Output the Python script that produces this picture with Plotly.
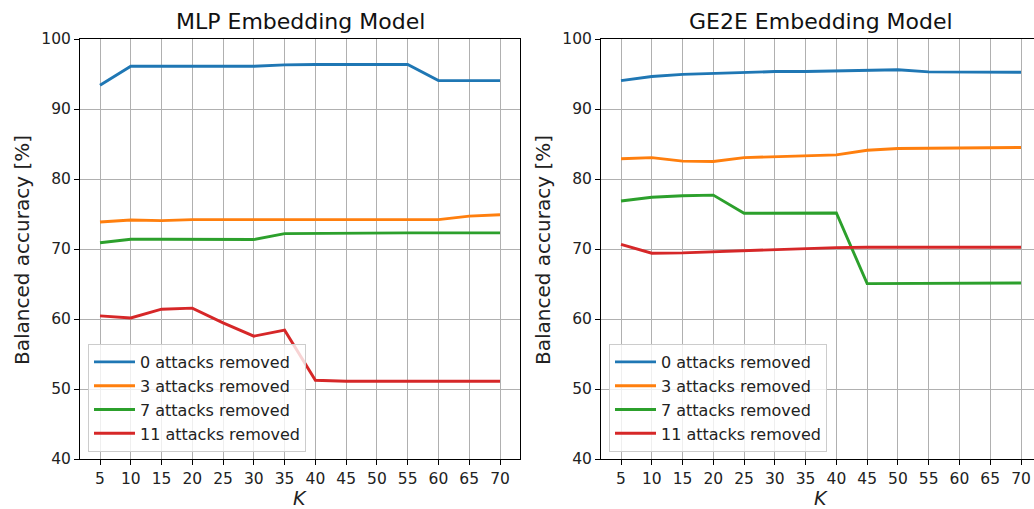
import plotly.graph_objects as go

K = [5, 10, 15, 20, 25, 30, 35, 40, 45, 50, 55, 60, 65, 70]
series_names = ["0 attacks removed", "3 attacks removed", "7 attacks removed", "11 attacks removed"]
colors = ["#1f77b4", "#ff7f0e", "#2ca02c", "#d62728"]

mlp_0 = [93.4, 96.1, 96.1, 96.05, 96.1, 96.1, 96.3, 96.35, 96.35, 96.35, 96.35, 94.05, 94.05, 94.05]
mlp_3 = [73.85, 74.15, 74.05, 74.2, 74.2, 74.2, 74.2, 74.15, 74.15, 74.15, 74.2, 74.2, 74.7, 74.9]
mlp_7 = [70.9, 71.4, 71.4, 71.35, 71.35, 71.35, 72.2, 72.25, 72.3, 72.3, 72.3, 72.3, 72.25, 72.3]
mlp_11 = [60.45, 60.15, 61.4, 61.55, 59.45, 57.55, 58.4, 51.25, 51.1, 51.1, 51.1, 51.1, 51.1, 51.1]

ge2e_0 = [94.05, 94.65, 94.95, 95.1, 95.25, 95.35, 95.35, 95.45, 95.55, 95.6, 95.3, 95.25, 95.2, 95.25]
ge2e_3 = [82.9, 83.05, 82.55, 82.5, 83.05, 83.15, 83.25, 83.45, 84.1, 84.35, 84.4, 84.45, 84.45, 84.5]
ge2e_7 = [76.85, 77.4, 77.6, 77.7, 75.1, 75.15, 75.15, 75.15, 65.05, 65.05, 65.05, 65.1, 65.1, 65.15]
ge2e_11 = [70.65, 69.4, 69.45, 69.6, 69.85, 69.95, 70.05, 70.2, 70.25, 70.25, 70.25, 70.25, 70.25, 70.25]

y_ticks = [40, 50, 60, 70, 80, 90, 100]
titles = ["MLP Embedding Model", "GE2E Embedding Model"]
y_label = "Balanced accuracy [%]"
x_label = "K"

W, H = 1034, 509
FONT = "DejaVu Sans"

fig = go.Figure()

mlp = [mlp_0, mlp_3, mlp_7, mlp_11]
ge2e = [ge2e_0, ge2e_3, ge2e_7, ge2e_11]

for i, (name, c) in enumerate(zip(series_names, colors)):
    fig.add_trace(go.Scatter(x=K, y=mlp[i], mode="lines", name=name,
                             line=dict(color=c, width=2.9), xaxis="x", yaxis="y",
                             legend="legend"))
for i, (name, c) in enumerate(zip(series_names, colors)):
    fig.add_trace(go.Scatter(x=K, y=ge2e[i], mode="lines", name=name,
                             line=dict(color=c, width=2.9), xaxis="x2", yaxis="y2",
                             legend="legend2"))

ybot = (H - 459) / H
ytop = (H - 39) / H

axis_common = dict(
    showgrid=True, gridcolor="#b0b0b0", gridwidth=1,
    showline=True, linecolor="#000000", linewidth=1,
    ticks="outside", ticklen=5, tickcolor="#000000", tickwidth=1,
    tickfont=dict(family=FONT, size=15.5, color="#222222"),
    zeroline=False, automargin=False,
)

legend_common = dict(
    xanchor="left", yanchor="bottom", y=(H - 452) / H,
    bgcolor="rgba(255,255,255,0.8)", bordercolor="#cccccc", borderwidth=1,
    font=dict(family=FONT, size=16, color="#222222"), itemwidth=41,
)

fig.update_layout(
    width=W, height=H,
    margin=dict(l=0, r=0, t=0, b=0, autoexpand=False),
    paper_bgcolor="white", plot_bgcolor="white",
    font=dict(family=FONT, color="#222222"),
    xaxis=dict(domain=[80 / W, 520 / W], range=[1.75, 73.25], tickvals=K,
               mirror=True, anchor="y", **axis_common),
    yaxis=dict(domain=[ybot, ytop], range=[40, 100], tickvals=y_ticks,
               mirror=True, anchor="x", **axis_common),
    xaxis2=dict(domain=[601 / W, 1.0], range=[1.75, 1.75 + 433 / (440 / 71.5)], tickvals=K,
                mirror=True, anchor="y2", **axis_common),
    yaxis2=dict(domain=[ybot, ytop], range=[40, 100], tickvals=y_ticks,
                mirror=False, anchor="x2", **axis_common),
    legend=dict(x=88 / W, **legend_common),
    legend2=dict(x=609 / W, **legend_common),
    showlegend=True,
)

annotations = []
for cx, t in zip([300, 821], titles):
    annotations.append(dict(text=t, x=cx / W, y=(H - 21) / H, xref="paper", yref="paper",
                            xanchor="center", yanchor="middle", showarrow=False,
                            font=dict(family=FONT, size=22, color="#111111")))
for cx in [22, 543]:
    annotations.append(dict(text=y_label, x=cx / W, y=(H - 250) / H, xref="paper", yref="paper",
                            xanchor="center", yanchor="middle", showarrow=False, textangle=-90,
                            font=dict(family=FONT, size=20, color="#222222")))
for cx in [300, 821]:
    annotations.append(dict(text="<i>%s</i>" % x_label, x=cx / W, y=(H - 498) / H, xref="paper", yref="paper",
                            xanchor="center", yanchor="middle", showarrow=False,
                            font=dict(family=FONT, size=19, color="#222222")))
fig.update_layout(annotations=annotations)

fig.write_html("out.html")
